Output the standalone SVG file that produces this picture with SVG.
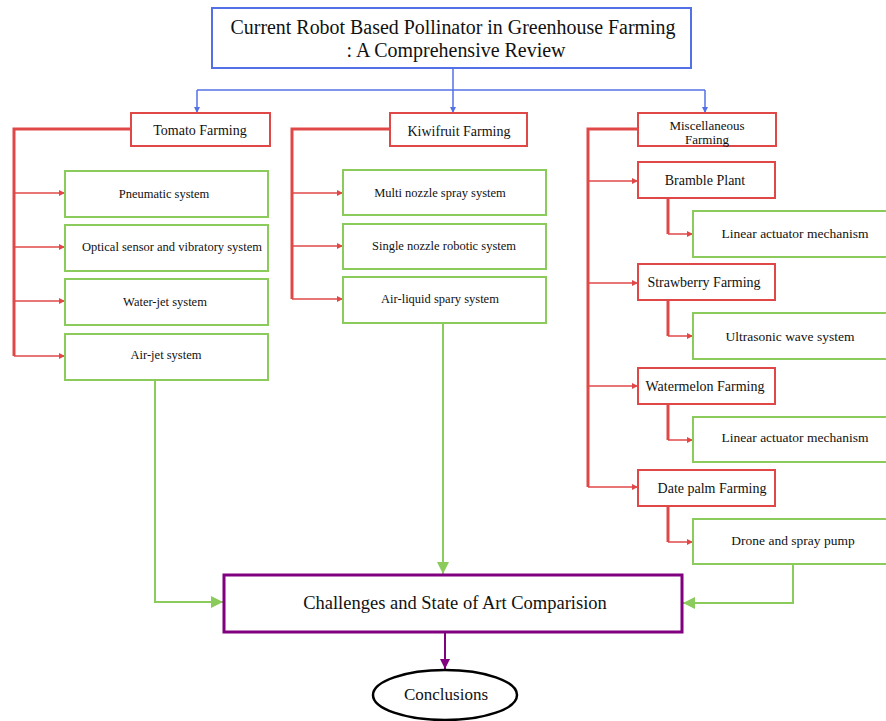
<svg xmlns="http://www.w3.org/2000/svg" width="886" height="721" viewBox="0 0 886 721">
<style>
text{font-family:"Liberation Serif","Times New Roman",serif;fill:#111;text-anchor:middle}
.blue{fill:#fff;stroke:#5470e6;stroke-width:2}
.red{fill:#fff;stroke:#e04848;stroke-width:2}
.grn{fill:#fff;stroke:#8acb5c;stroke-width:2}
.bl{fill:none;stroke:#5470e6;stroke-width:1.5}
.rt{fill:none;stroke:#e04848;stroke-width:3}
.rl{fill:none;stroke:#e04848;stroke-width:1.5}
.gl{fill:none;stroke:#8acb5c;stroke-width:2}
.t12{font-size:12.5px}.t13{font-size:13.5px}.t14{font-size:14px}
</style>
<defs>
<marker id="ab" viewBox="0 0 8 8" refX="8" refY="4" markerWidth="6" markerHeight="6" markerUnits="userSpaceOnUse" orient="auto"><path d="M0,0 L8,4 L0,8 z" fill="#5470e6"/></marker>
<marker id="ar" viewBox="0 0 8 8" refX="8" refY="4" markerWidth="7" markerHeight="6" markerUnits="userSpaceOnUse" orient="auto"><path d="M0,0 L8,4 L0,8 z" fill="#e04848"/></marker>
<marker id="ag" viewBox="0 0 10 10" refX="10" refY="5" markerWidth="14" markerHeight="12" markerUnits="userSpaceOnUse" orient="auto"><path d="M0,0 L10,5 L0,10 z" fill="#8acb5c"/></marker>
<marker id="ap" viewBox="0 0 10 10" refX="10" refY="5" markerWidth="12" markerHeight="10" markerUnits="userSpaceOnUse" orient="auto"><path d="M0,0 L10,5 L0,10 z" fill="#800080"/></marker>
</defs>
<g id="connectors">
<path class="bl" d="M453,68 V90"/>
<path class="bl" d="M197,90 H705"/>
<path class="bl" d="M197,90 V113" marker-end="url(#ab)"/>
<path class="bl" d="M453,90 V113" marker-end="url(#ab)"/>
<path class="bl" d="M705,90 V113" marker-end="url(#ab)"/>
<path class="rt" d="M131,129 H14 V356"/>
<path class="rl" d="M14,193 H65" marker-end="url(#ar)"/>
<path class="rl" d="M14,247 H65" marker-end="url(#ar)"/>
<path class="rl" d="M14,301 H65" marker-end="url(#ar)"/>
<path class="rl" d="M14,356 H65" marker-end="url(#ar)"/>
<path class="rt" d="M390,129 H292 V299"/>
<path class="rl" d="M292,193 H343" marker-end="url(#ar)"/>
<path class="rl" d="M292,246 H343" marker-end="url(#ar)"/>
<path class="rl" d="M292,299 H343" marker-end="url(#ar)"/>
<path class="rt" d="M638,129 H588 V487"/>
<path class="rl" d="M588,181 H638" marker-end="url(#ar)"/>
<path class="rl" d="M588,283 H638" marker-end="url(#ar)"/>
<path class="rl" d="M588,386 H638" marker-end="url(#ar)"/>
<path class="rl" d="M588,487 H638" marker-end="url(#ar)"/>
<path class="rt" d="M668,198 V234"/><path class="rl" d="M668,234 H693" marker-end="url(#ar)"/>
<path class="rt" d="M668,300 V336"/><path class="rl" d="M668,336 H693" marker-end="url(#ar)"/>
<path class="rt" d="M668,404 V440"/><path class="rl" d="M668,440 H693" marker-end="url(#ar)"/>
<path class="rt" d="M668,506 V542"/><path class="rl" d="M668,542 H693" marker-end="url(#ar)"/>
<path class="gl" d="M155,380 V602 H223" marker-end="url(#ag)"/>
<path class="gl" d="M443,323 V574" marker-end="url(#ag)"/>
<path class="gl" d="M793,564 V603 H683" marker-end="url(#ag)"/>
<path d="M445,633 V669" fill="none" stroke="#800080" stroke-width="2" marker-end="url(#ap)"/>
</g>
<g id="title"><rect class="blue" x="212" y="8" width="479" height="60"/>
<text x="453" y="34" style="font-size:20px" textLength="445" lengthAdjust="spacingAndGlyphs">Current Robot Based Pollinator in Greenhouse Farming</text>
<text x="456" y="57" style="font-size:20px" textLength="219" lengthAdjust="spacingAndGlyphs">: A Comprehensive Review</text></g>
<g id="tomato"><rect class="red" x="131" y="113" width="139" height="33"/><text class="t14" x="200" y="135">Tomato Farming</text></g>
<g id="kiwi"><rect class="red" x="390" y="113" width="137" height="33"/><text class="t14" x="459" y="136">Kiwifruit Farming</text></g>
<g id="misc"><rect class="red" x="638" y="113" width="138" height="33"/><text x="707" y="130" style="font-size:13px">Miscellaneous</text><text x="707" y="144" style="font-size:13px">Farming</text></g>
<g id="pneumatic"><rect class="grn" x="65" y="171" width="203" height="46"/><text class="t12" x="164" y="198">Pneumatic system</text></g>
<g id="optical"><rect class="grn" x="65" y="225" width="203" height="46"/><text class="t12" x="172" y="251">Optical sensor and vibratory system</text></g>
<g id="waterjet"><rect class="grn" x="65" y="279" width="203" height="46"/><text class="t12" x="165" y="306">Water-jet system</text></g>
<g id="airjet"><rect class="grn" x="65" y="334" width="203" height="46"/><text class="t12" x="166" y="359">Air-jet system</text></g>
<g id="multi"><rect class="grn" x="343" y="170" width="203" height="45"/><text class="t12" x="440" y="197">Multi nozzle spray system</text></g>
<g id="single"><rect class="grn" x="343" y="224" width="203" height="45"/><text class="t12" x="444" y="250">Single nozzle robotic system</text></g>
<g id="airliquid"><rect class="grn" x="343" y="277" width="203" height="46"/><text class="t12" x="440" y="303">Air-liquid spary system</text></g>
<g id="bramble"><rect class="red" x="638" y="162" width="137" height="36"/><text class="t14" x="705" y="185">Bramble Plant</text></g>
<g id="linear1"><rect class="grn" x="693" y="211" width="204" height="46"/><text class="t13" x="795" y="238">Linear actuator mechanism</text></g>
<g id="strawberry"><rect class="red" x="638" y="264" width="137" height="36"/><text class="t14" x="704" y="287">Strawberry Farming</text></g>
<g id="ultrasonic"><rect class="grn" x="693" y="313" width="204" height="46"/><text class="t13" x="790" y="341">Ultrasonic wave system</text></g>
<g id="watermelon"><rect class="red" x="638" y="368" width="137" height="36"/><text class="t14" x="705" y="391">Watermelon Farming</text></g>
<g id="linear2"><rect class="grn" x="693" y="417" width="204" height="45"/><text class="t13" x="795" y="442">Linear actuator mechanism</text></g>
<g id="datepalm"><rect class="red" x="638" y="470" width="137" height="36"/><text class="t14" x="712" y="493">Date palm Farming</text></g>
<g id="drone"><rect class="grn" x="693" y="519" width="204" height="45"/><text class="t13" x="793" y="545">Drone and spray pump</text></g>
<g id="challenges"><rect x="224" y="575" width="458" height="57" fill="#fff" stroke="#800080" stroke-width="3"/><text x="455" y="609" style="font-size:18.5px">Challenges and State of Art Comparision</text></g>
<g id="conclusions"><ellipse cx="445" cy="695" rx="72" ry="25" fill="#fff" stroke="#000" stroke-width="2.5"/><text x="446" y="700" style="font-size:17px">Conclusions</text></g>
</svg>
